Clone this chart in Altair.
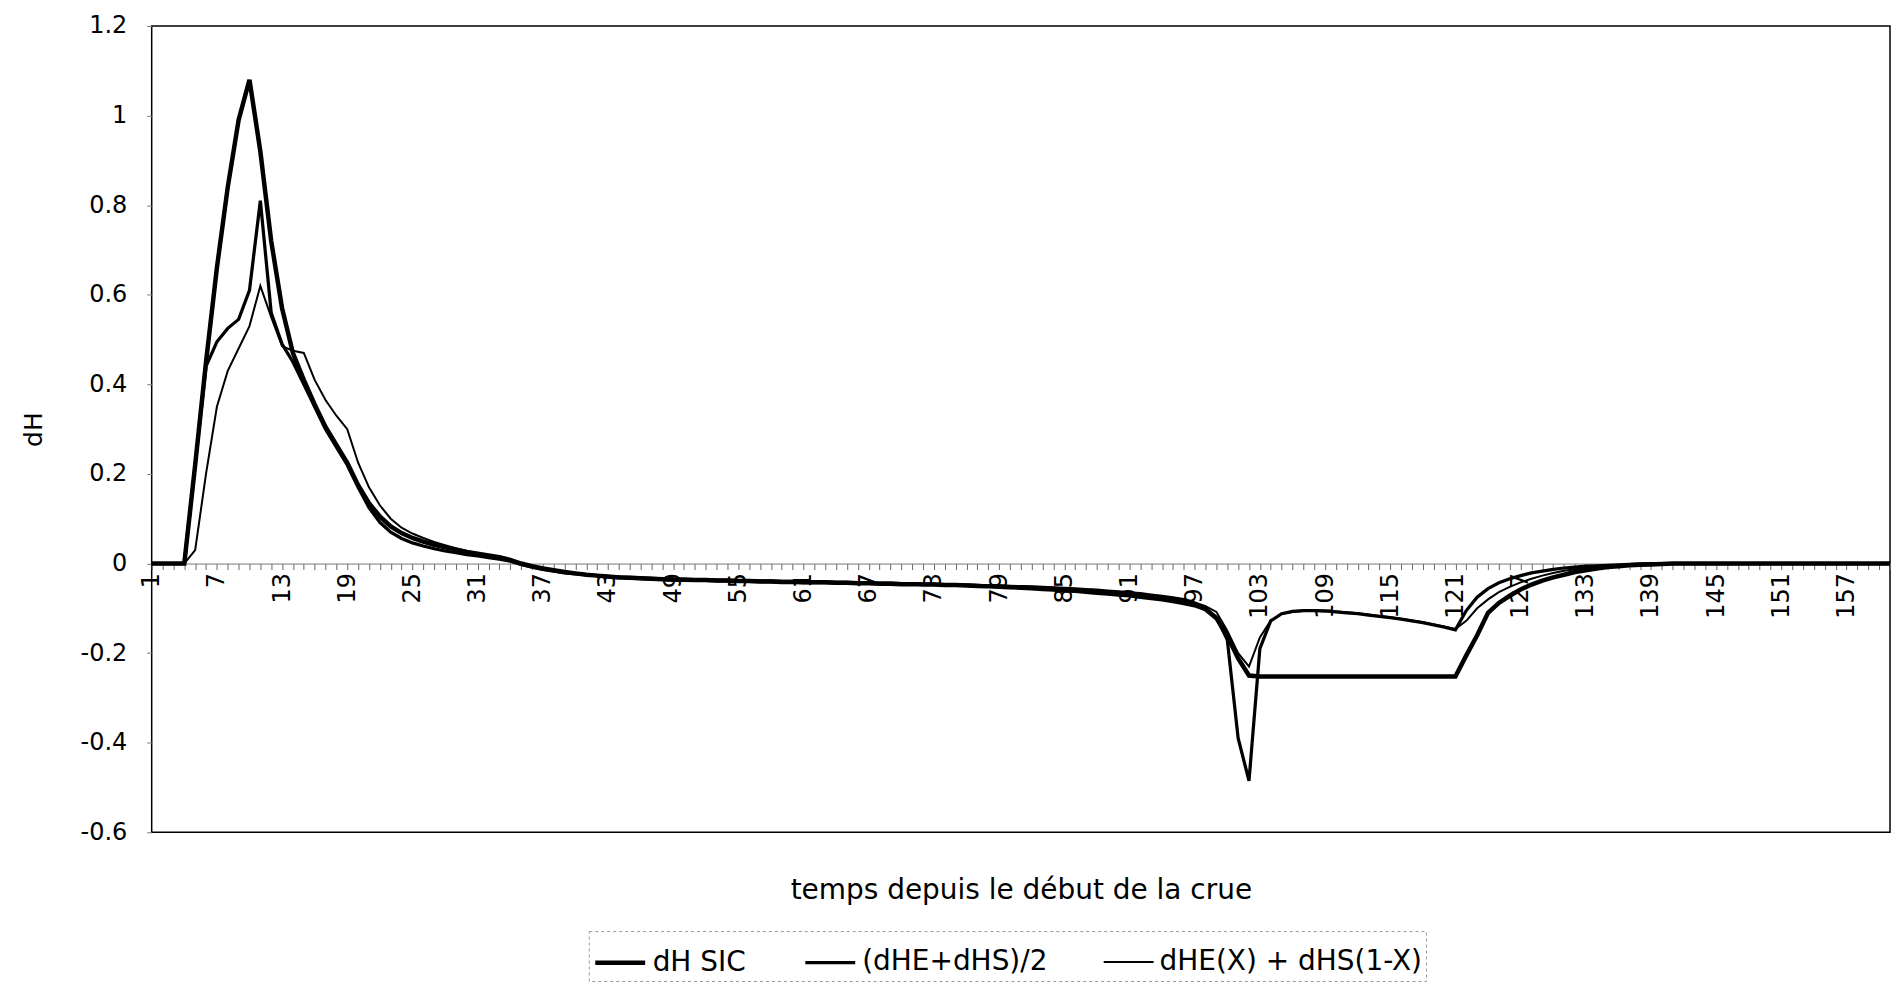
import altair as alt
import pandas as pd

# ---------------- data ----------------
categories = list(range(1, 162))
series_names = ["dH SIC", "(dHE+dHS)/2", "dHE(X) + dHS(1-X)"]
series_widths = [4.5, 2.0, 1.0]
x_label_values = [1, 7, 13, 19, 25, 31, 37, 43, 49, 55, 61, 67, 73, 79, 85,
                  91, 97, 103, 109, 115, 121, 127, 133, 139, 145, 151, 157]
y_tick_values = [-0.6, -0.4, -0.2, 0.0, 0.2, 0.4, 0.6, 0.8, 1.0, 1.2]

dh_sic = [
    0, 0, 0, 0, 0.22, 0.45, 0.66, 0.84, 0.99, 1.08,
    0.92, 0.72, 0.57, 0.47, 0.41, 0.355, 0.305, 0.265, 0.225, 0.175,
    0.135, 0.105, 0.083, 0.068, 0.057, 0.049, 0.042, 0.036, 0.031, 0.026,
    0.022, 0.018, 0.014, 0.008, 0.0, -0.006, -0.011, -0.015, -0.019, -0.022,
    -0.025, -0.027, -0.029, -0.031, -0.032, -0.033, -0.034, -0.035, -0.036, -0.036,
    -0.037, -0.037, -0.038, -0.038, -0.039, -0.039, -0.040, -0.040, -0.041, -0.041,
    -0.042, -0.042, -0.042, -0.043, -0.043, -0.044, -0.044, -0.045, -0.045, -0.046,
    -0.046, -0.047, -0.047, -0.048, -0.048, -0.049, -0.050, -0.051, -0.052, -0.053,
    -0.054, -0.055, -0.057, -0.058, -0.060, -0.061, -0.063, -0.065, -0.067, -0.069,
    -0.071, -0.074, -0.077, -0.080, -0.084, -0.088, -0.093, -0.102, -0.122, -0.162,
    -0.212, -0.250, -0.252, -0.252, -0.252, -0.252, -0.252, -0.252, -0.252, -0.252,
    -0.252, -0.252, -0.252, -0.252, -0.252, -0.252, -0.252, -0.252, -0.252, -0.252,
    -0.252, -0.205, -0.160, -0.110, -0.088, -0.072, -0.058, -0.047, -0.038, -0.031,
    -0.025, -0.019, -0.015, -0.011, -0.008, -0.006, -0.004, -0.003, -0.002, -0.001,
    0, 0, 0, 0, 0, 0, 0, 0, 0, 0,
    0, 0, 0, 0, 0, 0, 0, 0, 0, 0,
    0,
]

dhe_dhs_half = [
    0, 0, 0, 0, 0.22, 0.44, 0.495, 0.525, 0.545, 0.61,
    0.81, 0.56, 0.49, 0.45, 0.40, 0.35, 0.30, 0.26, 0.22, 0.17,
    0.125, 0.092, 0.070, 0.056, 0.046, 0.039, 0.033, 0.028, 0.024, 0.020,
    0.017, 0.013, 0.010, 0.005, -0.002, -0.008, -0.013, -0.017, -0.021, -0.023,
    -0.025, -0.027, -0.029, -0.030, -0.031, -0.032, -0.033, -0.034, -0.035, -0.035,
    -0.036, -0.036, -0.037, -0.037, -0.038, -0.038, -0.039, -0.039, -0.040, -0.040,
    -0.041, -0.041, -0.041, -0.042, -0.042, -0.043, -0.043, -0.044, -0.044, -0.045,
    -0.045, -0.046, -0.046, -0.047, -0.047, -0.048, -0.049, -0.050, -0.050, -0.051,
    -0.052, -0.053, -0.054, -0.055, -0.057, -0.058, -0.059, -0.061, -0.063, -0.065,
    -0.067, -0.069, -0.072, -0.075, -0.078, -0.082, -0.088, -0.100, -0.120, -0.170,
    -0.390, -0.485, -0.190, -0.128, -0.112, -0.107, -0.105, -0.105, -0.106, -0.108,
    -0.110, -0.112, -0.115, -0.118, -0.121, -0.124, -0.128, -0.132, -0.137, -0.142,
    -0.148, -0.105, -0.075, -0.056, -0.043, -0.034, -0.027, -0.021, -0.017, -0.013,
    -0.010, -0.008, -0.006, -0.005, -0.004, -0.003, -0.002, -0.001, 0, 0,
    0, 0, 0, 0, 0, 0, 0, 0, 0, 0,
    0, 0, 0, 0, 0, 0, 0, 0, 0, 0,
    0,
]

dhe_x_dhs = [
    0, 0, 0, 0, 0.03, 0.20, 0.35, 0.43, 0.48, 0.53,
    0.62, 0.55, 0.485, 0.475, 0.47, 0.41, 0.365, 0.33, 0.30, 0.225,
    0.17, 0.13, 0.10, 0.08, 0.067, 0.057, 0.048, 0.041, 0.034, 0.028,
    0.023, 0.018, 0.013, 0.007, 0.0, -0.006, -0.011, -0.016, -0.020, -0.023,
    -0.026, -0.028, -0.030, -0.032, -0.034, -0.035, -0.036, -0.037, -0.038, -0.038,
    -0.039, -0.039, -0.040, -0.040, -0.041, -0.041, -0.042, -0.042, -0.043, -0.043,
    -0.044, -0.044, -0.044, -0.045, -0.045, -0.045, -0.045, -0.046, -0.046, -0.046,
    -0.046, -0.046, -0.046, -0.047, -0.047, -0.047, -0.048, -0.048, -0.049, -0.050,
    -0.050, -0.051, -0.052, -0.053, -0.054, -0.055, -0.057, -0.058, -0.060, -0.062,
    -0.064, -0.066, -0.069, -0.072, -0.075, -0.079, -0.087, -0.095, -0.108, -0.150,
    -0.200, -0.230, -0.165, -0.127, -0.113, -0.108, -0.106, -0.105, -0.106, -0.107,
    -0.109, -0.111, -0.114, -0.117, -0.120, -0.123, -0.127, -0.131, -0.136, -0.141,
    -0.146, -0.128, -0.100, -0.080, -0.064, -0.052, -0.042, -0.034, -0.027, -0.021,
    -0.016, -0.013, -0.010, -0.008, -0.006, -0.004, -0.003, -0.002, -0.001, 0,
    0, 0, 0, 0, 0, 0, 0, 0, 0, 0,
    0, 0, 0, 0, 0, 0, 0, 0, 0, 0,
    0,
]

series_values = [dh_sic, dhe_dhs_half, dhe_x_dhs]
for vals in series_values:
    assert len(vals) == len(categories), len(vals)

rows = []
for name, vals in zip(series_names, series_values):
    for t, v in zip(categories, vals):
        rows.append({"t": t, "dH": v, "serie": name})
df = pd.DataFrame(rows)

FONT = "DejaVu Sans"
label_list = ",".join(str(v) for v in x_label_values)
x_label_expr = f"indexof([{label_list}], datum.value) >= 0 ? datum.label : ''"
y_label_expr = "replace(format(datum.value, '.1~f'), '\u2212', '-')"

chart = (
    alt.Chart(df)
    .mark_line(color="black")
    .encode(
        x=alt.X(
            "t:Q",
            scale=alt.Scale(domain=[1, 161], nice=False, zero=False),
            axis=alt.Axis(
                values=categories,
                labelExpr=x_label_expr,
                labelAngle=270,
                labelOverlap=False,
                labelFlush=False,
                labelFont=FONT,
                labelFontSize=24,
                labelColor="black",
                labelPadding=3,
                tickSize=6,
                tickColor="#666666",
                tickWidth=1,
                domainColor="#777777",
                domainWidth=1,
                grid=False,
                offset=-269.3,
                title="temps depuis le début de la crue",
                titleFont=FONT,
                titleFontSize=28,
                titleFontWeight="normal",
                titleColor="black",
                titleY=328,
                titleBaseline="middle",
            ),
        ),
        y=alt.Y(
            "dH:Q",
            scale=alt.Scale(domain=[-0.6, 1.2], nice=False, zero=False),
            axis=alt.Axis(
                values=y_tick_values,
                labelExpr=y_label_expr,
                labelFont=FONT,
                labelFontSize=24,
                labelColor="black",
                labelPadding=20,
                tickSize=5,
                tickColor="#777777",
                domain=False,
                grid=False,
                title="dH",
                titleFont=FONT,
                titleFontSize=25,
                titleFontWeight="normal",
                titleColor="black",
                titleAngle=270,
                titleX=-118,
                titleY=404,
                titleBaseline="middle",
                titleAlign="center",
            ),
        ),
        strokeWidth=alt.StrokeWidth(
            "serie:N",
            scale=alt.Scale(domain=series_names, range=series_widths),
            legend=alt.Legend(
                title=None,
                orient="none",
                legendX=438,
                legendY=907,
                direction="horizontal",
                symbolType="stroke",
                symbolSize=2500,
                symbolStrokeColor="black",
                labelFont=FONT,
                labelFontSize=28,
                labelColor="black",
                labelOffset=5,
                columnPadding=52,
                labelLimit=400,
            ),
        ),
        detail="serie:N",
    )
    .properties(
        width=1742,
        height=808,
        autosize=alt.AutoSizeParams(type="none"),
        padding={"left": 144, "top": 17, "right": 4, "bottom": 152},
    )
    .configure_view(stroke="black", strokeWidth=1.5)
    .configure_legend(strokeColor="#999999", strokeDash=[3, 3], strokeWidth=1, padding=4)
)

chart.save("out.html", embed_options={"renderer": "svg", "actions": False})
